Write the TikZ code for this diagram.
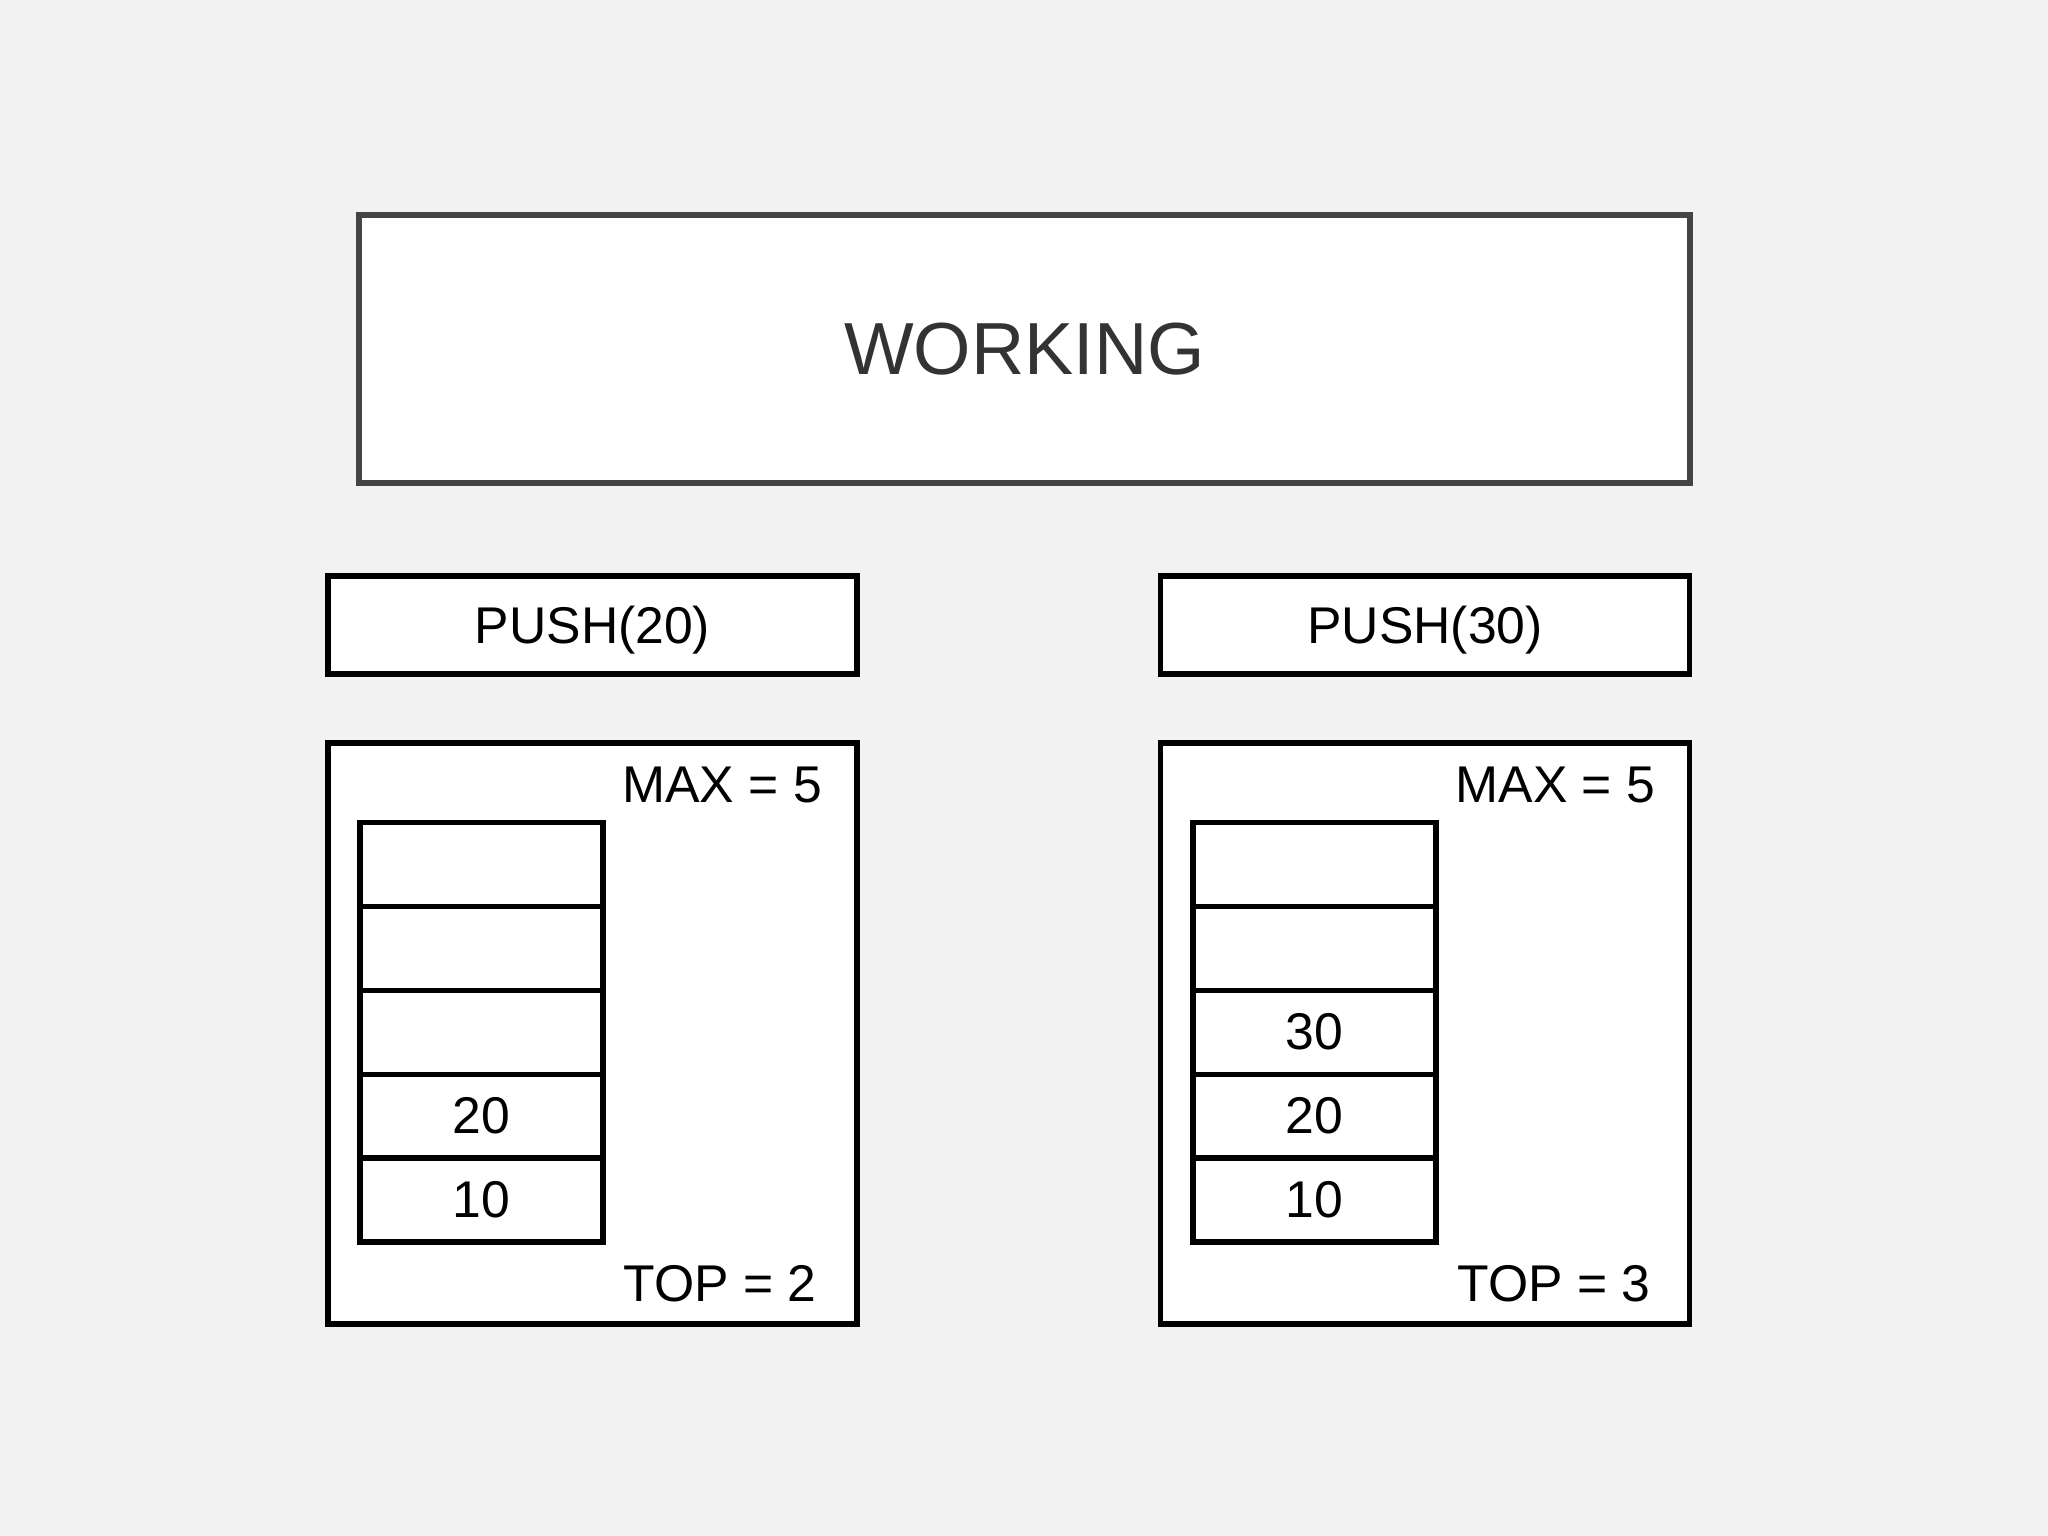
\documentclass[tikz,border=0pt]{standalone}
\usepackage{fontspec}
\setmainfont{Liberation Sans}
\usetikzlibrary{positioning}
\definecolor{bggray}{HTML}{F2F2F2}
\definecolor{framegray}{HTML}{444444}
\definecolor{textgray}{HTML}{333333}

\begin{document}
\begin{tikzpicture}[on grid,node distance=0.839cm,
  every node/.style={font=\fontsize{14.7}{17}\selectfont},
  box/.style={draw,line width=1.5pt,fill=white,inner sep=0pt},
  cell/.style={box,minimum width=2.43cm,minimum height=0.839cm}]
\fill[bggray] (0,0) rectangle (20.48,-15.36);
\useasboundingbox (0,0) rectangle (20.48,-15.36);

\node[box,draw=framegray,line width=1.8pt,minimum width=13.31cm,minimum height=2.68cm,
  text=textgray,font=\fontsize{21}{25}\selectfont] (work) at (10.245,-3.49) {WORKING};

\node[box,text depth=0pt,minimum width=5.29cm,minimum height=0.98cm] (push1) at (5.925,-6.25) {PUSH(20)};
\node[box,text depth=0pt,minimum width=5.29cm,minimum height=0.98cm] (push2) at (14.25,-6.25) {PUSH(30)};

\node[box,minimum width=5.29cm,minimum height=5.81cm] (stk1) at (5.925,-10.335) {};
\node[box,minimum width=5.29cm,minimum height=5.81cm] (stk2) at (14.25,-10.335) {};

% left stack
\node[cell] (l1) at (4.815,-12.0) {10};
\node[cell] (l2) [above=of l1] {20};
\node[cell] (l3) [above=of l2] {};
\node[cell] (l4) [above=of l3] {};
\node[cell] (l5) [above=of l4] {};
\node (max1) at (7.22,-7.85) {MAX = 5};
\node[anchor=west] (top1) at (6.11,-12.84) {TOP = 2};

% right stack
\node[cell] (r1) at (13.145,-12.0) {10};
\node[cell] (r2) [above=of r1] {20};
\node[cell] (r3) [above=of r2] {30};
\node[cell] (r4) [above=of r3] {};
\node[cell] (r5) [above=of r4] {};
\node (max2) at (15.555,-7.85) {MAX = 5};
\node[anchor=west] (top2) at (14.45,-12.84) {TOP = 3};
\end{tikzpicture}
\end{document}
